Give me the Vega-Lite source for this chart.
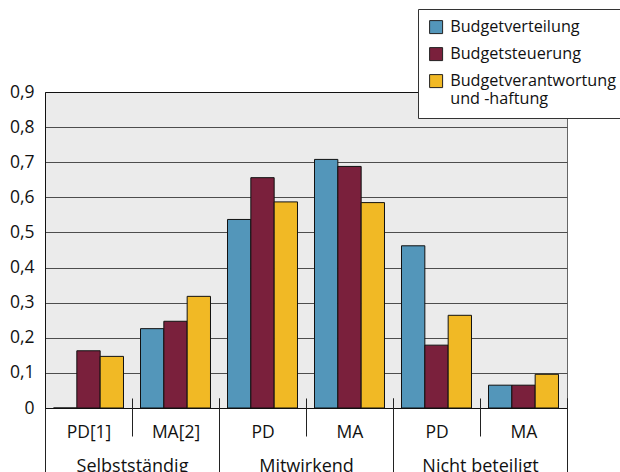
{
  "$schema": "https://vega.github.io/schema/vega-lite/v6.json",
  "autosize": "none",
  "width": 522,
  "height": 316,
  "padding": {"left": 45, "top": 92, "right": 53, "bottom": 64},
  "background": "white",
  "data": {
    "values": [
      {"gruppe": "Selbstständig", "feld": "Selbstständig/PD[1]", "reihe": "Budgetverteilung", "wert": 0},
      {"gruppe": "Selbstständig", "feld": "Selbstständig/PD[1]", "reihe": "Budgetsteuerung", "wert": 0.163},
      {"gruppe": "Selbstständig", "feld": "Selbstständig/PD[1]", "reihe": "Budgetverantwortung und -haftung", "wert": 0.147},
      {"gruppe": "Selbstständig", "feld": "Selbstständig/MA[2]", "reihe": "Budgetverteilung", "wert": 0.226},
      {"gruppe": "Selbstständig", "feld": "Selbstständig/MA[2]", "reihe": "Budgetsteuerung", "wert": 0.247},
      {"gruppe": "Selbstständig", "feld": "Selbstständig/MA[2]", "reihe": "Budgetverantwortung und -haftung", "wert": 0.318},
      {"gruppe": "Mitwirkend", "feld": "Mitwirkend/PD", "reihe": "Budgetverteilung", "wert": 0.537},
      {"gruppe": "Mitwirkend", "feld": "Mitwirkend/PD", "reihe": "Budgetsteuerung", "wert": 0.656},
      {"gruppe": "Mitwirkend", "feld": "Mitwirkend/PD", "reihe": "Budgetverantwortung und -haftung", "wert": 0.587},
      {"gruppe": "Mitwirkend", "feld": "Mitwirkend/MA", "reihe": "Budgetverteilung", "wert": 0.708},
      {"gruppe": "Mitwirkend", "feld": "Mitwirkend/MA", "reihe": "Budgetsteuerung", "wert": 0.688},
      {"gruppe": "Mitwirkend", "feld": "Mitwirkend/MA", "reihe": "Budgetverantwortung und -haftung", "wert": 0.585},
      {"gruppe": "Nicht beteiligt", "feld": "Nicht beteiligt/PD", "reihe": "Budgetverteilung", "wert": 0.462},
      {"gruppe": "Nicht beteiligt", "feld": "Nicht beteiligt/PD", "reihe": "Budgetsteuerung", "wert": 0.179},
      {"gruppe": "Nicht beteiligt", "feld": "Nicht beteiligt/PD", "reihe": "Budgetverantwortung und -haftung", "wert": 0.264},
      {"gruppe": "Nicht beteiligt", "feld": "Nicht beteiligt/MA", "reihe": "Budgetverteilung", "wert": 0.065},
      {"gruppe": "Nicht beteiligt", "feld": "Nicht beteiligt/MA", "reihe": "Budgetsteuerung", "wert": 0.065},
      {"gruppe": "Nicht beteiligt", "feld": "Nicht beteiligt/MA", "reihe": "Budgetverantwortung und -haftung", "wert": 0.096}
    ]
  },
  "layer": [
    {
      "mark": {"type": "bar", "stroke": "#111", "strokeWidth": 1},
      "encoding": {
        "x": {
          "field": "feld",
          "type": "nominal",
          "sort": null,
          "scale": {"paddingInner": 0, "paddingOuter": 0},
          "axis": {
            "orient": "bottom",
            "title": null,
            "offset": -10,
            "domain": false,
            "grid": false,
            "labelAngle": 0,
            "tickBand": "extent",
            "tickSize": 38,
            "tickColor": "#222",
            "tickWidth": 1,
            "labelExpr": "split(datum.label, '/')[1]",
            "labelFont": "Open Sans",
            "labelFontSize": 17.5,
            "labelColor": "#111",
            "labelBaseline": "alphabetic",
            "labelPadding": 1
          }
        },
        "xOffset": {
          "field": "reihe",
          "type": "nominal",
          "sort": null,
          "scale": {"paddingInner": 0, "paddingOuter": 0.365}
        },
        "y": {
          "field": "wert",
          "type": "quantitative",
          "scale": {"domain": [0, 0.9], "nice": false, "zero": true},
          "axis": {
            "title": null,
            "values": [0, 0.1, 0.2, 0.3, 0.4, 0.5, 0.6, 0.7, 0.8, 0.9],
            "labelExpr": "replace(format(datum.value, '.1~f'), '.', ',')",
            "ticks": false,
            "domain": true,
            "domainColor": "#111",
            "domainWidth": 1,
            "grid": true,
            "gridColor": {
              "condition": {"test": "datum.value === 0 || datum.value === 0.9", "value": "#111"},
              "value": "#4d4d4d"
            },
            "gridWidth": 1,
            "labelFont": "Open Sans",
            "labelFontSize": 17.5,
            "labelColor": "#111",
            "labelPadding": 11
          }
        },
        "color": {
          "field": "reihe",
          "type": "nominal",
          "sort": null,
          "scale": {
            "domain": ["Budgetverteilung", "Budgetsteuerung", "Budgetverantwortung und -haftung"],
            "range": ["#5396BA", "#7A203C", "#F1B925"]
          },
          "legend": {
            "title": null,
            "orient": "none",
            "legendX": 373,
            "legendY": -83,
            "fillColor": "white",
            "strokeColor": "#333",
            "padding": 10,
            "symbolType": "square",
            "symbolSize": 169,
            "symbolStrokeColor": "#222",
            "symbolStrokeWidth": 1,
            "symbolOpacity": 1,
            "labelFont": "Open Sans",
            "labelFontSize": 16.2,
            "labelColor": "#111",
            "labelOffset": 6,
            "labelLimit": 400,
            "rowPadding": 9,
            "labelExpr": "datum.label == 'Budgetverantwortung und -haftung' ? ['Budgetverantwortung', 'und -haftung'] : datum.label"
          }
        }
      }
    },
    {
      "mark": {"type": "rule", "opacity": 0},
      "encoding": {
        "x": {
          "field": "gruppe",
          "type": "nominal",
          "sort": null,
          "scale": {"paddingInner": 0, "paddingOuter": 0},
          "axis": {
            "orient": "bottom",
            "title": null,
            "offset": -10,
            "domain": false,
            "grid": false,
            "labelAngle": 0,
            "tickBand": "extent",
            "tickSize": 74,
            "tickColor": "#222",
            "tickWidth": 1,
            "labelFont": "Open Sans",
            "labelFontSize": 18,
            "labelColor": "#111",
            "labelBaseline": "alphabetic",
            "labelPadding": -1
          }
        }
      }
    }
  ],
  "resolve": {"scale": {"x": "independent"}, "axis": {"x": "independent"}},
  "config": {
    "view": {"fill": "#EBEBEB", "stroke": "#666", "strokeWidth": 1},
    "axis": {"labelFont": "Open Sans"},
    "legend": {"labelFont": "Open Sans"}
  }
}
